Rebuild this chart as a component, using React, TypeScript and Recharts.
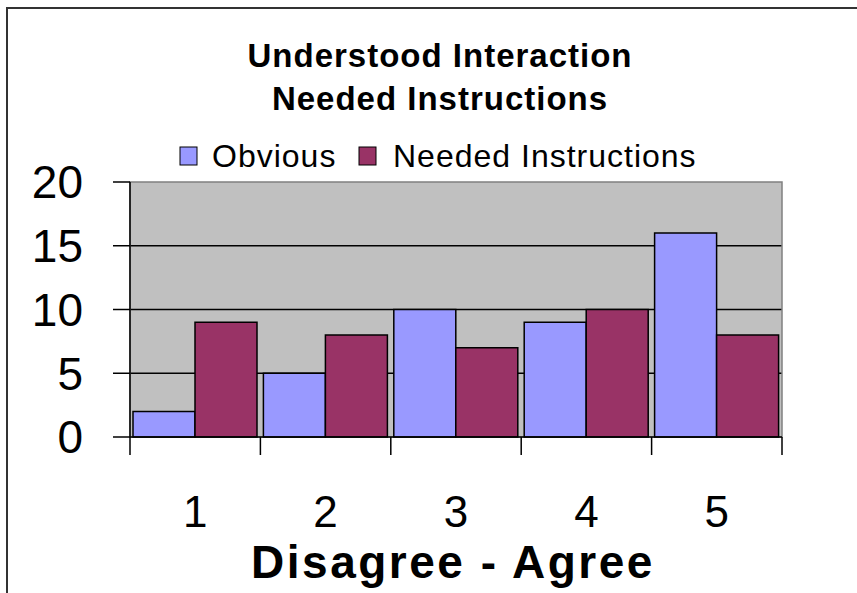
import { BarChart, Bar, XAxis, YAxis, CartesianGrid, ReferenceArea } from 'recharts';

const categories = ['1', '2', '3', '4', '5'];
const obvious = [2, 5, 10, 9, 16];
const neededInstructions = [9, 8, 7, 10, 8];
const yTicks = [0, 5, 10, 15, 20];
const gridValues = [5, 10, 15];

const OBVIOUS_COLOR = '#9999ff';
const NEEDED_COLOR = '#993366';

const W = 857;
const H = 593;
const PLOT_LEFT = 130;
const PLOT_RIGHT = 782;
const PLOT_TOP = 182;
const PLOT_BOTTOM = 437;
const XAXIS_H = 60;
const BAND = (PLOT_RIGHT - PLOT_LEFT) / categories.length;

const data = categories.map((cat, i) => ({
  cat,
  obvious: obvious[i],
  needed: neededInstructions[i],
}));

const FONT = 'Arial, "Liberation Sans", sans-serif';

// category ticks sit on the band edges, labels in the middle
const XTick = (props: any) => {
  const { x, y, payload, index } = props;
  const half = BAND / 2;
  const last = index === categories.length - 1;
  return (
    <g>
      <line x1={x - half} x2={x - half} y1={y} y2={y + 18} stroke="#000" strokeWidth={1.5} />
      {last && <line x1={x + half} x2={x + half} y1={y} y2={y + 18} stroke="#000" strokeWidth={1.5} />}
      <text x={x} y={y + 90} textAnchor="middle" fontSize={44} fontFamily={FONT} fill="#000">
        {payload.value}
      </text>
    </g>
  );
};

export default function App() {
  return (
    <div style={{ position: 'absolute', top: 0, left: 0, width: W, height: H, overflow: 'hidden', background: '#fff' }}>
      <div
        style={{
          position: 'absolute',
          left: 6,
          top: 7,
          width: W + 20,
          height: H + 20,
          borderTop: '2px solid #333',
          borderLeft: '2px solid #333',
        }}
      />
      <div style={{ position: 'absolute', left: 0, top: 0 }}>
        <BarChart
          width={W}
          height={H}
          data={data}
          margin={{ top: PLOT_TOP, right: W - PLOT_RIGHT, bottom: H - PLOT_BOTTOM - XAXIS_H, left: 0 }}
          barCategoryGap={3}
          barGap={0}
        >
          <CartesianGrid vertical={false} horizontalValues={gridValues} fill="#c0c0c0" stroke="#000" strokeWidth={1.5} />
          <ReferenceArea y1={0} y2={20} fill="none" stroke="#808080" strokeWidth={1.5} ifOverflow="visible" />
          <XAxis
            dataKey="cat"
            height={XAXIS_H}
            tickLine={false}
            tickSize={0}
            tickMargin={0}
            axisLine={{ stroke: '#000', strokeWidth: 1.5 }}
            tick={<XTick />}
            interval={0}
          />
          <YAxis
            width={PLOT_LEFT}
            domain={[0, 20]}
            ticks={yTicks}
            tickSize={17}
            tickMargin={30}
            axisLine={{ stroke: '#000', strokeWidth: 1.5 }}
            tickLine={{ stroke: '#000', strokeWidth: 1.5 }}
            tick={{ fontSize: 46, fill: '#000', fontFamily: FONT }}
          />
          <Bar dataKey="obvious" name="Obvious" fill={OBVIOUS_COLOR} stroke="#000" strokeWidth={1.5} isAnimationActive={false} />
          <Bar dataKey="needed" name="Needed Instructions" fill={NEEDED_COLOR} stroke="#000" strokeWidth={1.5} isAnimationActive={false} />
        </BarChart>
      </div>
      <svg width={W} height={H} style={{ position: 'absolute', left: 0, top: 0, pointerEvents: 'none' }}>
        <text x={440} y={67} textAnchor="middle" fontSize={33} fontWeight="bold" letterSpacing={1} fontFamily={FONT}>
          Understood Interaction
        </text>
        <text x={440} y={110} textAnchor="middle" fontSize={33} fontWeight="bold" letterSpacing={1} fontFamily={FONT}>
          Needed Instructions
        </text>
        <rect x={180} y={147} width={17} height={18} fill={OBVIOUS_COLOR} stroke="#000" strokeWidth={1} />
        <text x={212} y={167} fontSize={32} letterSpacing={1} fontFamily={FONT}>
          Obvious
        </text>
        <rect x={359} y={147} width={17} height={18} fill={NEEDED_COLOR} stroke="#000" strokeWidth={1} />
        <text x={393} y={167} fontSize={32} letterSpacing={1} fontFamily={FONT}>
          Needed Instructions
        </text>
        <text x={453} y={578} textAnchor="middle" fontSize={46} fontWeight="bold" letterSpacing={2.5} fontFamily={FONT}>
          Disagree - Agree
        </text>
      </svg>
    </div>
  );
}
